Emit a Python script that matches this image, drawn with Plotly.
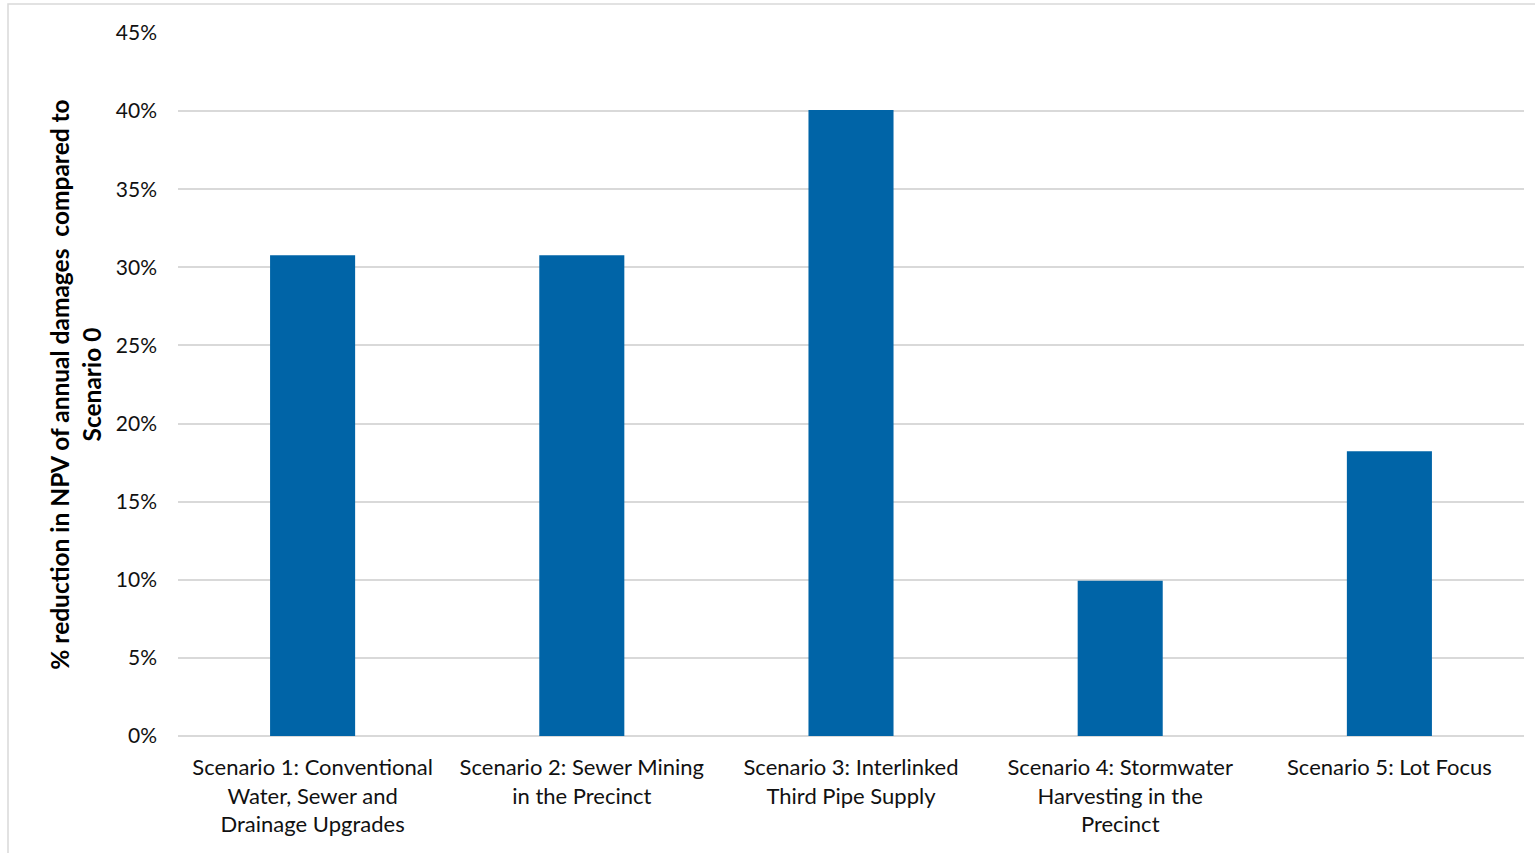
import plotly.graph_objects as go

# Scenario labels (line breaks as displayed under the axis)
scenarios = [
    "Scenario 1: Conventional<br>Water, Sewer and<br>Drainage Upgrades",
    "Scenario 2: Sewer Mining<br>in the Precinct",
    "Scenario 3: Interlinked<br>Third Pipe Supply",
    "Scenario 4: Stormwater<br>Harvesting in the<br>Precinct",
    "Scenario 5: Lot Focus",
]
# % reduction in NPV of annual damages compared to Scenario 0 (fractions)
reduction = [0.3077, 0.3077, 0.4007, 0.0994, 0.1822]

# y-axis ticks
y_ticks = [0, 0.05, 0.10, 0.15, 0.20, 0.25, 0.30, 0.35, 0.40, 0.45]
y_tick_text = ["0%", "5%", "10%", "15%", "20%", "25%", "30%", "35%", "40%", "45%"]

W, H = 1535, 853
L, R, T, B = 178, 11, 33, 117
pw, ph = W - L - R, H - T - B

FONT = "Lato, Open Sans, sans-serif"

fig = go.Figure(
    go.Bar(
        x=scenarios,
        y=reduction,
        marker=dict(color="#0064a7", line=dict(width=0)),
        width=0.316,
    )
)

fig.update_layout(
    width=W,
    height=H,
    margin=dict(l=L, r=R, t=T, b=B),
    paper_bgcolor="white",
    plot_bgcolor="white",
    showlegend=False,
    font=dict(family=FONT, size=22, color="#111111"),
    xaxis=dict(
        showgrid=False,
        showline=False,
        ticks="",
        ticklabelstandoff=16,
        tickfont=dict(size=22, color="#111111"),
    ),
    yaxis=dict(
        range=[0, 0.45],
        tickvals=y_ticks,
        ticktext=y_tick_text,
        showgrid=True,
        gridcolor="#d9d9d9",
        gridwidth=1.5,
        zeroline=True,
        zerolinecolor="#d9d9d9",
        zerolinewidth=1.5,
        showline=False,
        ticks="",
        ticklabelstandoff=20,
        tickfont=dict(size=21, color="#111111"),
        title=dict(
            text="<b>% reduction in NPV of annual damages  compared to<br>Scenario 0</b>",
            font=dict(size=24.5, color="#000000"),
            standoff=7,
        ),
    ),
    shapes=[
        dict(
            type="rect",
            xref="paper",
            yref="paper",
            x0=(8 - L) / pw,
            x1=(W + 20 - L) / pw,
            y0=-(B + 20) / ph,
            y1=1 + (T - 4) / ph,
            line=dict(color="#d9d9d9", width=1.5),
            fillcolor="rgba(0,0,0,0)",
            layer="below",
        )
    ],
)

fig.write_html("out.html")
